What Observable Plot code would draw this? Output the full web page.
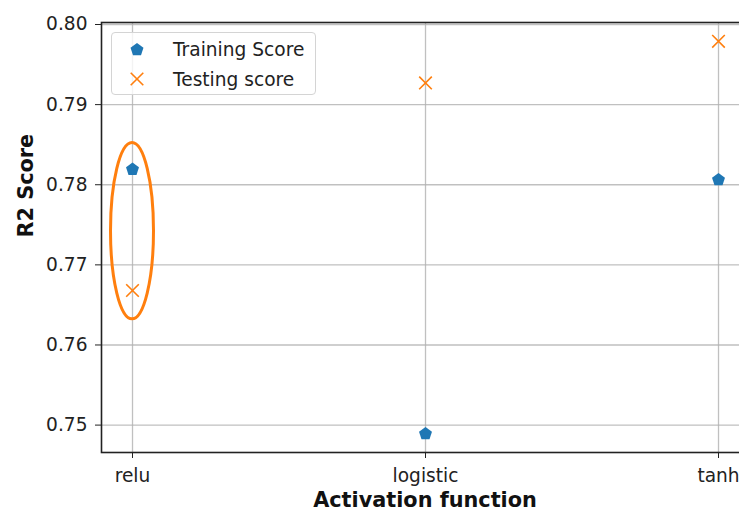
<!DOCTYPE html>
<html><head><meta charset="utf-8">
<script src="https://cdn.jsdelivr.net/npm/d3@7"></script>
<script src="https://cdn.jsdelivr.net/npm/@observablehq/plot@0.6"></script>
<style>
html,body{margin:0;padding:0;background:#fff;overflow:hidden;}
#wrap{position:relative;width:739px;height:511px;overflow:hidden;}
.legend{position:absolute;left:111px;top:32px;width:203px;height:61px;border:1px solid #d4d4d4;border-radius:4px;background:rgba(255,255,255,0.8);font-family:"DejaVu Sans";font-size:18.6px;color:#222;}
.legend .row{position:absolute;left:0;height:24px;display:flex;align-items:center;}
.legend svg{position:absolute;left:17px;}
.legend span{position:absolute;left:61px;white-space:nowrap;}
</style>
</head><body><div id="wrap"></div>
<script>
const categories = ["relu", "logistic", "tanh"];
const trainingScore = [0.7820, 0.7490, 0.7807];
const testingScore = [0.7668, 0.7927, 0.7979];
const yTicks = [0.75, 0.76, 0.77, 0.78, 0.79, 0.80];
const seriesNames = ["Training Score", "Testing score"];
const seriesColors = ["#1f77b4", "#ff7f0e"];
const xLabel = "Activation function";
const yLabel = "R2 Score";
const highlightCategory = "relu";
const highlightCenter = 0.7742;
const highlightHalfHeight = 0.0110;

const training = categories.map((c, i) => ({category: c, value: trainingScore[i]}));
const testing = categories.map((c, i) => ({category: c, value: testingScore[i]}));

const pentagon = {
  draw(ctx, size) {
    const R = Math.sqrt(size / Math.PI);
    for (let k = 0; k < 5; k++) {
      const a = -Math.PI / 2 + k * 2 * Math.PI / 5;
      const px = R * Math.cos(a), py = R * Math.sin(a) + R * 0.1;
      if (k === 0) ctx.moveTo(px, py); else ctx.lineTo(px, py);
    }
    ctx.closePath();
  }
};
const cross = {
  draw(ctx, size) {
    const h = Math.sqrt(size / Math.PI);
    ctx.moveTo(-h, -h); ctx.lineTo(h, h);
    ctx.moveTo(h, -h); ctx.lineTo(-h, h);
  }
};

const W = 748, H = 511;
const chart = Plot.plot({
  width: W, height: H,
  marginLeft: 101, marginRight: 0, marginTop: 22, marginBottom: 59,
  style: {fontFamily: "DejaVu Sans", fontSize: "18.6px", color: "#222", background: "#fff", maxWidth: "none"},
  x: {type: "point", domain: categories, padding: 0.1028, label: null, tickSize: 6, tickPadding: 10},
  y: {domain: [0.74658, 0.80025], ticks: yTicks, tickFormat: d3.format(".2f"), label: null, tickSize: 6, tickPadding: 8},
  marks: [
    Plot.ruleY(yTicks, {stroke: "#b0b0b0", strokeOpacity: 0.8, strokeWidth: 1.3}),
    Plot.ruleX(categories, {stroke: "#b0b0b0", strokeOpacity: 0.8, strokeWidth: 1.3}),
    Plot.frame({stroke: "#222", strokeWidth: 1.6}),
    Plot.dot(training, {x: "category", y: "value", symbol: pentagon, r: 6.8, fill: seriesColors[0], stroke: "none"}),
    Plot.dot(testing, {x: "category", y: "value", symbol: cross, r: 6.3, stroke: seriesColors[1], strokeWidth: 1.6, fill: "none"}),
    (index, scales) => {
      const cx = scales.x(highlightCategory);
      const cy = scales.y(highlightCenter);
      const ry = Math.abs(scales.y(highlightCenter + highlightHalfHeight) - cy);
      const e = d3.create("svg:ellipse")
        .attr("cx", cx).attr("cy", cy).attr("rx", 21.5).attr("ry", ry)
        .attr("fill", "none").attr("stroke", seriesColors[1]).attr("stroke-width", 3);
      return e.node();
    },
    Plot.text([xLabel], {frameAnchor: "bottom", lineAnchor: "middle", dy: 48, fontWeight: "bold", fontSize: 20.8, fill: "#111"}),
    Plot.text([yLabel], {frameAnchor: "left", lineAnchor: "middle", dx: -75, rotate: -90, fontWeight: "bold", fontSize: 20.8, fill: "#111"})
  ]
});
chart.style.maxWidth = "none";
const wrap = document.getElementById("wrap");
wrap.appendChild(chart);
const legend = document.createElement("div");
legend.className = "legend";
legend.innerHTML = `
  <div class="row" style="top:4px;width:100%">
    <svg width="16" height="16" viewBox="-8 -8 16 16"><path d="${d3.range(5).map(k => { const a = -Math.PI/2 + k*2*Math.PI/5; return (k?'L':'M') + (6.8*Math.cos(a)).toFixed(2) + ',' + (6.8*Math.sin(a)+0.8).toFixed(2); }).join('')}Z" fill="${seriesColors[0]}"/></svg>
    <span>${seriesNames[0]}</span></div>
  <div class="row" style="top:34px;width:100%">
    <svg width="16" height="16" viewBox="-8 -8 16 16"><path d="M-6.3,-6.3L6.3,6.3M6.3,-6.3L-6.3,6.3" stroke="${seriesColors[1]}" stroke-width="1.6" fill="none"/></svg>
    <span>${seriesNames[1]}</span></div>`;
wrap.appendChild(legend);
</script>
</body></html>
